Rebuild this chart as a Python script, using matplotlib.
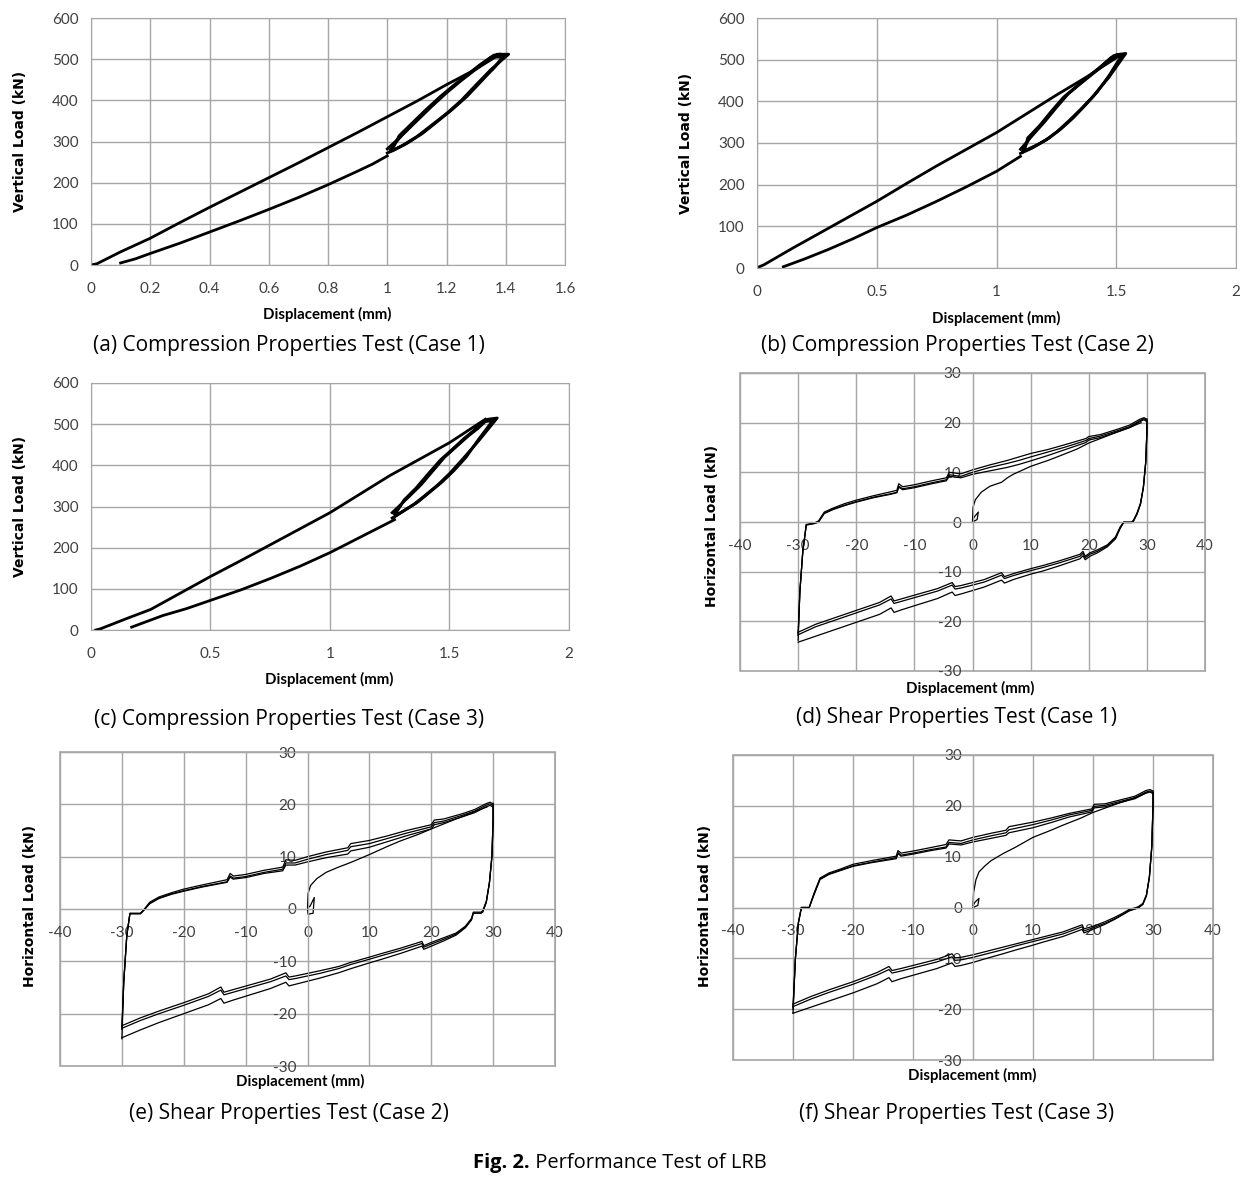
import matplotlib
matplotlib.use("Agg")
import matplotlib.pyplot as plt
from matplotlib.patches import Rectangle

plt.rcParams["axes.unicode_minus"] = False

# ---------------- compression tests (vertical load vs displacement) ----------------
a_load_x = [0.00, 0.02, 0.1, 0.2, 0.3, 0.4, 0.5, 0.6, 0.7, 0.8, 0.9, 1.0, 1.1, 1.2, 1.3, 1.38]
a_load_y = [0, 3, 32, 65, 103, 140, 176, 212, 248, 285, 322, 360, 398, 438, 476, 512]
a_unload_x = [1.00, 0.95, 0.9, 0.8, 0.7, 0.6, 0.5, 0.4, 0.3, 0.2, 0.15, 0.10]
a_unload_y = [265, 245, 228, 195, 164, 135, 107, 80, 53, 28, 15, 5]
a_cyc_x = [[1.00, 1.05, 1.10, 1.15, 1.20, 1.25, 1.30, 1.35, 1.41, 1.37, 1.33, 1.30, 1.25, 1.20, 1.15, 1.10, 1.05, 1.00],
           [1.01, 1.06, 1.11, 1.16, 1.21, 1.26, 1.31, 1.36, 1.40, 1.36, 1.32, 1.29, 1.24, 1.19, 1.14, 1.09, 1.05, 1.01],
           [1.02, 1.07, 1.12, 1.17, 1.22, 1.27, 1.32, 1.36, 1.39, 1.35, 1.31, 1.28, 1.23, 1.18, 1.13, 1.08, 1.04, 1.02]]
a_cyc_y = [[272, 290, 312, 340, 368, 400, 438, 475, 512, 512, 492, 476, 448, 418, 385, 350, 315, 282],
           [275, 293, 316, 344, 373, 405, 443, 478, 510, 510, 489, 472, 444, 414, 381, 346, 316, 280],
           [278, 297, 320, 349, 378, 410, 448, 480, 505, 505, 485, 468, 440, 410, 377, 342, 314, 285]]
a_xticks = [0, 0.2, 0.4, 0.6, 0.8, 1.0, 1.2, 1.4, 1.6]
a_xlabels = ["0", "0.2", "0.4", "0.6", "0.8", "1", "1.2", "1.4", "1.6"]

b_load_x = [0.01, 0.03, 0.15, 0.25, 0.375, 0.5, 0.625, 0.75, 0.875, 1.0, 1.125, 1.25, 1.375, 1.52]
b_load_y = [3, 8, 48, 80, 120, 160, 203, 245, 285, 325, 370, 415, 458, 512]
b_unload_x = [1.10, 1.05, 1.0, 0.875, 0.75, 0.625, 0.5, 0.4, 0.3, 0.2, 0.11]
b_unload_y = [268, 250, 232, 195, 160, 127, 97, 70, 45, 22, 3]
b_cyc_x = [[1.10, 1.15, 1.20, 1.25, 1.30, 1.35, 1.40, 1.47, 1.54, 1.50, 1.45, 1.40, 1.35, 1.30, 1.25, 1.20, 1.15, 1.10],
           [1.11, 1.16, 1.21, 1.26, 1.31, 1.36, 1.41, 1.47, 1.53, 1.49, 1.44, 1.39, 1.34, 1.29, 1.24, 1.19, 1.14, 1.11],
           [1.12, 1.17, 1.22, 1.27, 1.32, 1.37, 1.42, 1.47, 1.52, 1.48, 1.43, 1.38, 1.33, 1.28, 1.23, 1.18, 1.13, 1.12]]
b_cyc_y = [[275, 288, 305, 326, 352, 380, 410, 458, 515, 512, 488, 465, 442, 418, 385, 350, 318, 285],
           [278, 292, 308, 330, 356, 385, 416, 460, 512, 510, 485, 462, 438, 414, 381, 346, 314, 282],
           [282, 296, 312, 334, 360, 390, 422, 462, 508, 506, 481, 458, 434, 410, 377, 342, 312, 288]]
b_xticks = [0, 0.5, 1.0, 1.5, 2.0]
b_xlabels = ["0", "0.5", "1", "1.5", "2"]

c_load_x = [0.02, 0.04, 0.15, 0.25, 0.375, 0.5, 0.625, 0.75, 0.875, 1.0, 1.125, 1.25, 1.375, 1.5, 1.65]
c_load_y = [0, 3, 28, 50, 90, 130, 168, 207, 246, 285, 330, 375, 415, 455, 512]
c_unload_x = [1.27, 1.25, 1.125, 1.0, 0.875, 0.75, 0.625, 0.5, 0.4, 0.3, 0.17]
c_unload_y = [268, 262, 225, 188, 155, 125, 97, 72, 52, 35, 7]
c_cyc_x = [[1.26, 1.30, 1.35, 1.40, 1.45, 1.50, 1.55, 1.62, 1.70, 1.66, 1.62, 1.58, 1.53, 1.48, 1.43, 1.38, 1.32, 1.26],
           [1.27, 1.31, 1.36, 1.41, 1.46, 1.51, 1.56, 1.62, 1.69, 1.65, 1.61, 1.57, 1.52, 1.47, 1.42, 1.37, 1.31, 1.27],
           [1.28, 1.32, 1.37, 1.42, 1.47, 1.52, 1.57, 1.62, 1.68, 1.64, 1.60, 1.56, 1.51, 1.46, 1.41, 1.36, 1.31, 1.28]]
c_cyc_y = [[272, 286, 305, 328, 352, 380, 412, 458, 515, 512, 490, 472, 446, 420, 386, 352, 318, 285],
           [275, 290, 308, 332, 356, 384, 416, 460, 512, 510, 487, 468, 442, 416, 382, 348, 314, 282],
           [280, 294, 312, 336, 360, 388, 420, 462, 508, 506, 484, 465, 438, 412, 379, 345, 316, 288]]
c_xticks = [0, 0.5, 1.0, 1.5, 2.0]
c_xlabels = ["0", "0.5", "1", "1.5", "2"]

comp_yticks = [0, 100, 200, 300, 400, 500, 600]

# ---------------- shear tests (horizontal load vs displacement) ----------------
d_init_x = [0, 0.8, 1.0, 0.3, 0, 0.1, 0.5, 1.5, 3, 5, 6, 7, 10, 13, 15, 18, 20, 24, 27, 29]
d_init_y = [0, 0.5, 2.0, 1.0, 0.3, 3.0, 4.5, 6.0, 7.2, 8.0, 8.9, 9.6, 11.2, 12.4, 13.3, 14.7, 15.9, 17.7, 19.0, 20.0]
d_up_x = [-30, -29.7, -29.2, -28.6, -27.2, -26.5, -25.5, -24, -22, -20, -17, -14, -13, -12.7, -12,
          -10, -7, -4.5, -4, -2, 0, 3, 6, 8, 10, 13, 16, 19.5, 20, 22, 25, 27, 28.8, 29.5, 30]
d_up_y = [[-22.4, -14, -6, -0.5, -0.2, 0.2, 2.0, 2.8, 3.7, 4.4, 5.3, 6.1, 6.4, 7.7, 7.1,
           7.5, 8.3, 8.9, 10.0, 9.7, 10.5, 11.5, 12.4, 13.1, 13.8, 14.6, 15.6, 16.8, 17.2, 17.6, 18.7, 19.5, 20.7, 21.0, 20.7],
          [-22.8, -14, -6, -0.6, -0.3, 0.0, 1.8, 2.6, 3.4, 4.1, 5.0, 5.7, 6.0, 7.2, 6.7,
           7.1, 7.9, 8.5, 9.5, 9.2, 10.0, 11.0, 11.8, 12.4, 13.1, 14.1, 15.1, 16.4, 16.8, 17.3, 18.4, 19.2, 20.4, 20.8, 20.4],
          [-23.8, -14, -6, -0.6, -0.3, 0.0, 1.7, 2.5, 3.3, 4.0, 4.9, 5.6, 5.9, 7.0, 6.5,
           6.9, 7.7, 8.3, 9.2, 8.9, 9.6, 10.3, 11.0, 11.6, 12.3, 13.4, 14.6, 16.0, 16.5, 17.0, 18.2, 19.0, 20.2, 20.6, 20.2]]
d_lo_x = [30, 30, 29.8, 29.4, 28.9, 28.3, 27.7, 27.4, 26.0, 25.4, 24.6, 23.2, 21.5, 20.2, 19.4, 19.0,
          18.5, 15, 12, 10, 7, 5.5, 5, 2, 0, -2, -3, -3.5, -6, -9, -12, -13.5, -14, -16, -20, -24, -27, -30]
d_lo_y = [[20.7, 18, 12, 7, 3.8, 1.8, 0.4, 0.0, 0.0, -1.0, -3.0, -4.6, -5.6, -6.2, -6.9, -5.9,
           -6.5, -7.8, -8.8, -9.4, -10.4, -11.0, -10.2, -11.6, -12.2, -12.8, -13.0, -12.2, -13.4, -14.4, -15.4, -15.9, -14.9, -16.2, -17.8, -19.4, -20.6, -22.2],
          [20.4, 18, 12, 7, 3.6, 1.6, 0.2, -0.1, -0.1, -1.2, -3.2, -4.8, -5.9, -6.5, -7.2, -6.3,
           -6.9, -8.2, -9.2, -9.8, -10.8, -11.4, -10.7, -12.1, -12.7, -13.3, -13.5, -12.7, -13.9, -14.9, -15.9, -16.4, -15.5, -16.7, -18.3, -19.9, -21.1, -22.7],
          [20.2, 18, 12, 7, 3.6, 1.6, 0.2, -0.1, -0.1, -1.3, -3.4, -5.0, -6.2, -6.9, -7.6, -6.8,
           -7.4, -8.8, -9.9, -10.5, -11.6, -12.3, -11.7, -13.1, -13.8, -14.5, -14.8, -14.1, -15.4, -16.5, -17.6, -18.2, -17.3, -18.6, -20.2, -21.8, -23.0, -24.2]]

e_init_x = [0, 0.1, 0.9, 1.1, 0.4, 0, 0.1, 0.5, 1.5, 3, 5, 7, 10, 13, 15, 18, 20, 24, 27, 29]
e_init_y = [0, -1.0, -0.8, 2.2, 0.5, 0.3, 3.0, 4.5, 5.8, 7.0, 8.0, 8.9, 10.4, 12.0, 13.0, 14.3, 15.3, 17.2, 18.6, 19.5]
e_up_x = [-30, -29.7, -29.2, -28.7, -27.0, -26.5, -25.5, -24, -22, -20, -17, -13, -12.5, -12,
          -10, -7, -4, -3.5, -2, 0, 3, 6.5, 7, 10, 13, 16, 20, 20.5, 22, 25, 27, 28.8, 29.5, 30]
e_up_y = [[-22.6, -14, -5, -0.8, -0.8, -0.2, 1.3, 2.3, 3.1, 3.8, 4.6, 5.6, 6.8, 6.3,
           6.6, 7.4, 8.0, 9.4, 9.3, 10.0, 10.9, 11.7, 12.5, 13.1, 14.0, 15.0, 16.1, 17.0, 17.2, 18.2, 19.0, 20.1, 20.4, 20.1],
          [-23.0, -14, -5, -0.9, -0.9, -0.3, 1.1, 2.1, 2.9, 3.5, 4.3, 5.2, 6.3, 5.9,
           6.2, 7.0, 7.6, 8.8, 8.8, 9.5, 10.4, 11.2, 11.9, 12.5, 13.5, 14.5, 15.7, 16.5, 16.8, 17.9, 18.7, 19.8, 20.1, 19.8],
          [-24.8, -14, -5, -0.9, -0.9, -0.3, 1.0, 2.0, 2.8, 3.4, 4.2, 5.1, 6.1, 5.7,
           6.0, 6.8, 7.3, 8.4, 8.4, 9.0, 9.8, 10.5, 11.1, 11.8, 12.9, 14.0, 15.3, 16.1, 16.5, 17.6, 18.4, 19.5, 19.8, 19.5]]
e_lo_x = [30, 30, 29.8, 29.4, 28.9, 28.3, 28.0, 26.8, 26.5, 25.5, 24.0, 22, 20, 18.8, 18.5,
          15, 12, 10, 7, 5, 2, 0, -2, -3, -3.5, -6, -9, -12, -13.5, -14, -16, -20, -24, -27, -30]
e_lo_y = [[20.2, 17, 10, 5, 1.5, -0.4, -0.6, -0.6, -1.8, -3.3, -4.6, -5.5, -6.4, -7.0, -6.2,
           -7.5, -8.5, -9.2, -10.2, -11.0, -11.8, -12.3, -12.8, -13.0, -12.2, -13.4, -14.4, -15.4, -15.9, -14.9, -16.2, -17.9, -19.5, -20.8, -22.3],
          [19.9, 17, 10, 5, 1.3, -0.6, -0.8, -0.8, -2.0, -3.5, -4.8, -5.8, -6.7, -7.3, -6.6,
           -7.9, -8.9, -9.6, -10.6, -11.4, -12.3, -12.8, -13.3, -13.5, -12.8, -13.9, -14.9, -15.9, -16.4, -15.5, -16.7, -18.4, -20.0, -21.3, -22.8],
          [19.6, 17, 10, 5, 1.3, -0.6, -0.8, -0.8, -2.1, -3.6, -5.0, -6.1, -7.1, -7.7, -7.1,
           -8.5, -9.6, -10.3, -11.4, -12.2, -13.2, -13.8, -14.4, -14.7, -14.0, -15.2, -16.3, -17.4, -18.0, -17.1, -18.3, -20.0, -21.7, -23.1, -24.6]]

f_init_x = [0, 0.8, 1.0, 0.3, 0, 0.1, 0.5, 1.0, 2, 3, 5, 7, 10, 13, 15, 18, 20, 24, 27, 29]
f_init_y = [0, 0.4, 1.8, 1.0, 0.3, 3.0, 5.5, 7.0, 8.2, 9.2, 10.6, 11.8, 13.8, 15.2, 16.2, 17.6, 18.7, 20.4, 21.6, 22.6]
f_up_x = [-30, -29.6, -29.1, -28.6, -27.3, -26.5, -25.5, -24, -22, -20, -17, -12.8, -12.5, -12,
          -10, -7, -4.5, -4, -2, 0, 3, 5.5, 6, 10, 13, 16, 19.8, 20.2, 22, 25, 27, 28.8, 29.5, 30]
f_up_y = [[-19.6, -10, -3, 0.0, 0.0, 2.8, 5.8, 6.8, 7.6, 8.5, 9.2, 10.1, 11.2, 10.7,
           11.1, 11.8, 12.4, 13.3, 13.1, 13.8, 14.6, 15.2, 15.9, 16.8, 17.6, 18.5, 19.4, 20.3, 20.4, 21.3, 21.9, 23.0, 23.2, 22.9],
          [-20.0, -10, -3, 0.0, 0.0, 2.6, 5.6, 6.6, 7.4, 8.2, 8.9, 9.8, 10.8, 10.3,
           10.7, 11.4, 11.9, 12.8, 12.6, 13.3, 14.1, 14.7, 15.3, 16.3, 17.2, 18.2, 19.1, 19.9, 20.1, 21.0, 21.6, 22.7, 22.9, 22.6],
          [-20.8, -10, -3, 0.0, 0.0, 2.5, 5.5, 6.5, 7.3, 8.1, 8.8, 9.6, 10.6, 10.1,
           10.5, 11.2, 11.7, 12.5, 12.3, 12.9, 13.6, 14.2, 14.7, 15.7, 16.7, 17.8, 18.8, 19.6, 19.8, 20.8, 21.4, 22.5, 22.7, 22.4]]
f_lo_x = [30, 30, 29.8, 29.4, 28.9, 28.3, 27.6, 27.2, 26.0, 25.0, 23.5, 22, 20, 18.5, 18.2,
          15, 12, 10, 7, 5, 2, 0, -2, -3, -3.5, -6, -9, -12, -13.5, -14, -16, -20, -24, -27, -30]
f_lo_y = [[22.9, 20, 12, 6, 2.5, 0.8, 0.2, 0.0, -0.4, -1.1, -2.0, -2.8, -3.7, -4.2, -3.4,
           -4.8, -5.7, -6.3, -7.2, -7.8, -8.7, -9.3, -9.8, -9.9, -9.1, -10.2, -11.1, -12.0, -12.4, -11.6, -12.8, -14.6, -16.2, -17.5, -19.0],
          [22.6, 20, 12, 6, 2.3, 0.6, 0.0, -0.2, -0.6, -1.3, -2.3, -3.1, -4.0, -4.6, -3.8,
           -5.2, -6.1, -6.7, -7.6, -8.3, -9.2, -9.8, -10.3, -10.4, -9.7, -10.7, -11.6, -12.5, -12.9, -12.2, -13.3, -15.1, -16.7, -18.0, -19.5],
          [22.4, 20, 12, 6, 2.3, 0.6, 0.0, -0.2, -0.7, -1.4, -2.4, -3.3, -4.3, -5.0, -4.3,
           -5.7, -6.7, -7.4, -8.4, -9.1, -10.1, -10.8, -11.4, -11.6, -10.9, -12.0, -13.0, -14.0, -14.6, -13.8, -15.0, -16.8, -18.4, -19.6, -20.8]]

shear_xticks = [-40, -30, -20, -10, 0, 10, 20, 30, 40]
shear_yticks = [-30, -20, -10, 0, 10, 20, 30]

captions = ["(a) Compression Properties Test (Case 1)",
            "(b) Compression Properties Test (Case 2)",
            "(c) Compression Properties Test (Case 3)",
            "(d) Shear Properties Test (Case 1)",
            "(e) Shear Properties Test (Case 2)",
            "(f) Shear Properties Test (Case 3)"]
fig_title_bold = "Fig. 2."
fig_title_rest = " Performance Test of LRB"

# ---------------- styling ----------------
W, H = 1260, 1180
GRID = "#a6a6a6"
TICKC = "#404040"
TICKFONT = "Lato"
CAPFONT = "Open Sans"
CAPSIZE = 15

fig = plt.figure(figsize=(W / 100, H / 100), dpi=100)
fig.patch.set_facecolor("white")


def px_axes(l, r, t, b):
    return fig.add_axes([l / W, 1 - b / H, (r - l) / W, (b - t) / H])


def style_common(ax):
    ax.grid(True, color=GRID, lw=1.0)
    ax.set_axisbelow(True)
    ax.tick_params(length=0, labelsize=11, labelcolor=TICKC)
    for lab in ax.get_xticklabels() + ax.get_yticklabels():
        lab.set_family(TICKFONT)


def axis_labels(xlab_xy, ylab_xy, ytext):
    fig.text(xlab_xy[0] / W, 1 - xlab_xy[1] / H, "Displacement (mm)", ha="center", va="center",
             family="Lato", weight="bold", fontsize=10.8)
    fig.text(ylab_xy[0] / W, 1 - ylab_xy[1] / H, ytext, ha="center", va="center",
             rotation=90, family="DejaVu Sans", weight="bold", fontsize=10)


def comp_panel(box, load_x, load_y, unload_x, unload_y, cyc_x, cyc_y, xticks, xlabels, xlab_xy, ylab_xy):
    ax = px_axes(*box)
    ax.plot(load_x, load_y, color="black", lw=2.0, solid_joinstyle="round")
    ax.plot(unload_x, unload_y, color="black", lw=2.0, solid_joinstyle="round")
    for cx, cy in zip(cyc_x, cyc_y):
        ax.plot(cx, cy, color="black", lw=2.0, solid_joinstyle="round")
    ax.set_xlim(xticks[0], xticks[-1])
    ax.set_ylim(0, 600)
    ax.set_xticks(xticks)
    ax.set_xticklabels(xlabels)
    ax.set_yticks(comp_yticks)
    for s in ax.spines.values():
        s.set_color(GRID)
    style_common(ax)
    ax.tick_params(axis="x", pad=12)
    ax.tick_params(axis="y", pad=9)
    axis_labels(xlab_xy, ylab_xy, "Vertical Load (kN)")
    return ax


def shear_panel(box, init_x, init_y, up_x, up_y, lo_x, lo_y, xlab_xy, ylab_xy):
    ax = px_axes(*box)
    ax.plot(init_x, init_y, color="black", lw=0.9)
    for uy, ly in zip(up_y, lo_y):
        ax.plot(lo_x, ly, color="black", lw=0.9)
        ax.plot(up_x, uy, color="black", lw=0.9)
    ax.set_xlim(-40, 40)
    ax.set_ylim(-30, 30)
    ax.set_xticks(shear_xticks)
    ax.set_yticks(shear_yticks)
    ax.spines["left"].set_position(("data", 0))
    ax.spines["bottom"].set_position(("data", 0))
    for s in ax.spines.values():
        s.set_color(GRID)
    ax.add_patch(Rectangle((0, 0), 1, 1, transform=ax.transAxes, fill=False,
                           edgecolor=GRID, lw=1.2, clip_on=False, zorder=0.5))
    style_common(ax)
    ax.tick_params(axis="x", pad=12)
    ax.tick_params(axis="y", pad=8)
    axis_labels(xlab_xy, ylab_xy, "Horizontal Load (kN)")
    return ax


comp_panel((91, 565, 18, 265), a_load_x, a_load_y, a_unload_x, a_unload_y, a_cyc_x, a_cyc_y,
           a_xticks, a_xlabels, (327, 314), (20, 141))
comp_panel((757, 1236, 18, 268), b_load_x, b_load_y, b_unload_x, b_unload_y, b_cyc_x, b_cyc_y,
           b_xticks, b_xlabels, (996, 318), (686, 143))
comp_panel((91, 569, 383, 630), c_load_x, c_load_y, c_unload_x, c_unload_y, c_cyc_x, c_cyc_y,
           c_xticks, c_xlabels, (329, 679), (20, 506))

shear_panel((740, 1205, 373, 671), d_init_x, d_init_y, d_up_x, d_up_y, d_lo_x, d_lo_y,
            (970, 688), (712, 526))
shear_panel((60, 555, 752, 1066), e_init_x, e_init_y, e_up_x, e_up_y, e_lo_x, e_lo_y,
            (300, 1081), (30, 906))
shear_panel((733, 1213, 755, 1060), f_init_x, f_init_y, f_up_x, f_up_y, f_lo_x, f_lo_y,
            (972, 1075), (705, 906))

cap_pos = [(289, 346), (957, 346), (289, 719), (957, 718), (289, 1113), (957, 1113)]
for (cx, cy), txt in zip(cap_pos, captions):
    fig.text(cx / W, 1 - cy / H, txt, ha="center", va="center", family=CAPFONT, fontsize=CAPSIZE)

t1 = fig.text(473 / W, 1 - 1163 / H, fig_title_bold, ha="left", va="center",
              family=CAPFONT, weight="bold", fontsize=14.5)
fig.canvas.draw()
bb = t1.get_window_extent()
fig.text(bb.x1 / W, 1 - 1163 / H, fig_title_rest, ha="left", va="center",
         family=CAPFONT, fontsize=14.5)

fig.savefig("out.png", dpi=100, facecolor="white")
